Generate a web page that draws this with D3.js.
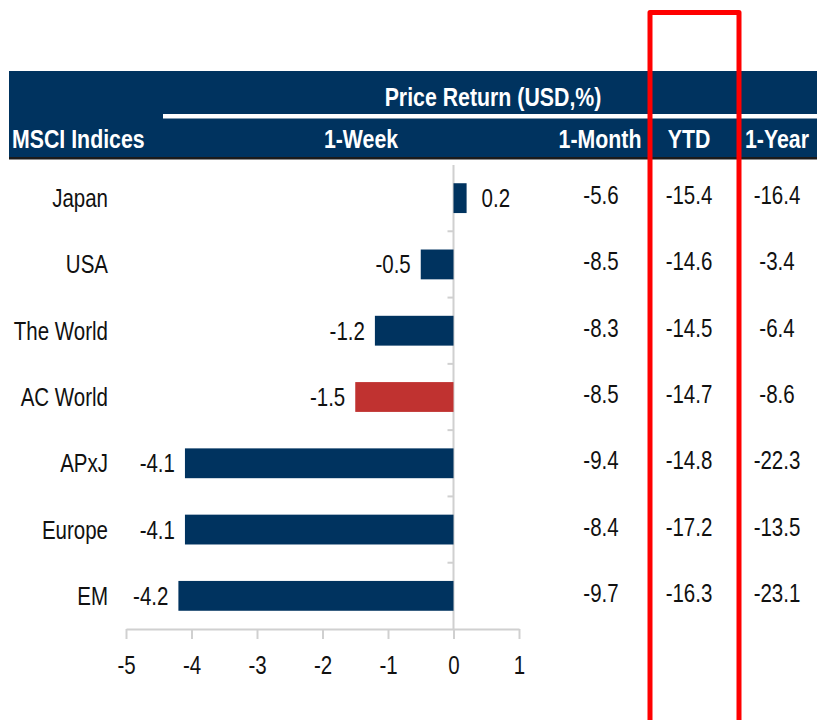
<!DOCTYPE html>
<html>
<head>
<meta charset="utf-8">
<script src="https://cdn.jsdelivr.net/npm/d3@7/dist/d3.min.js"></script>
<style>
  html, body { margin: 0; padding: 0; background: #fff; }
  svg text { font-family: "Liberation Sans", Arial, sans-serif; }
</style>
</head>
<body>
<svg id="chart" width="817" height="720"></svg>
<script>
const categories = ["Japan", "USA", "The World", "AC World", "APxJ", "Europe", "EM"];
const week  = [0.2, -0.5, -1.2, -1.5, -4.1, -4.1, -4.2];
const month = [-5.6, -8.5, -8.3, -8.5, -9.4, -8.4, -9.7];
const ytd   = [-15.4, -14.6, -14.5, -14.7, -14.8, -17.2, -16.3];
const year  = [-16.4, -3.4, -6.4, -8.6, -22.3, -13.5, -23.1];
const highlight = "AC World";
const xTicks = [-5, -4, -3, -2, -1, 0, 1];
const headerTop = "Price Return (USD,%)";
const headerCols = ["MSCI Indices", "1-Week", "1-Month", "YTD", "1-Year"];

const svg = d3.select("#chart");
const navy = "#00335f";
const red = "#c03230";
const fs = 25;
const hfs = 26;
const narrow = 0.82;
const pos = (X, Y) => `translate(${X},${Y}) scale(${narrow},1)`;

const x = d3.scaleLinear().domain([-5, 1]).range([126, 519]);
const y = d3.scaleBand().domain(categories).range([165, 629]).paddingInner(0.55).paddingOuter(0.275);
const step = y.step();

// header band
svg.append("rect").attr("x", 9).attr("y", 71).attr("width", 817 - 9).attr("height", 87).attr("fill", navy);
svg.append("rect").attr("x", 9).attr("y", 157).attr("width", 817 - 9).attr("height", 2.5).attr("fill", "#1b1b1b");
svg.append("rect").attr("x", 163).attr("y", 114).attr("width", 817 - 163).attr("height", 4.5).attr("fill", "#ffffff");

svg.append("text").attr("transform", pos(493, 106)).attr("text-anchor", "middle")
  .attr("fill", "#fff").attr("font-weight", "bold").attr("font-size", hfs).text(headerTop);

const headerX = [12, 361, 600, 689, 777];
const headerAnchor = ["start", "middle", "middle", "middle", "middle"];
headerCols.forEach((t, i) => {
  svg.append("text").attr("transform", pos(headerX[i], 148)).attr("text-anchor", headerAnchor[i])
    .attr("fill", "#fff").attr("font-weight", "bold").attr("font-size", hfs).text(t);
});

// zero line + category ticks
const gy = svg.append("g").attr("transform", `translate(${x(0)},0)`);
gy.append("line").attr("x1", 0).attr("x2", 0).attr("y1", 165).attr("y2", 629)
  .attr("stroke", "#d0d0d0").attr("stroke-width", 2);
gy.selectAll("line.ct").data(d3.range(1, 7)).join("line").attr("class", "ct")
  .attr("x1", -6).attr("x2", 0).attr("y1", k => 165 + k * step).attr("y2", k => 165 + k * step)
  .attr("stroke", "#d0d0d0").attr("stroke-width", 2);

// x axis
const xAxis = d3.axisBottom(x).tickValues(xTicks).tickSize(10).tickSizeOuter(0).tickFormat(d => String(d));
const gx = svg.append("g").attr("transform", "translate(0,629)").call(xAxis);
gx.select(".domain").attr("stroke", "#d0d0d0").attr("stroke-width", 2);
gx.selectAll(".tick line").attr("stroke", "#d0d0d0").attr("stroke-width", 2);
gx.selectAll(".tick text").attr("font-size", fs).attr("fill", "#111").attr("dy", 0).attr("y", 0)
  .attr("transform", pos(0, 45))
  .style("font-family", '"Liberation Sans", Arial, sans-serif');

// bars
const rows = categories.map((c, i) => ({c, w: week[i], m: month[i], t: ytd[i], yr: year[i]}));
svg.selectAll("rect.bar").data(rows).join("rect").attr("class", "bar")
  .attr("x", d => x(Math.min(0, d.w))).attr("width", d => Math.abs(x(d.w) - x(0)))
  .attr("y", d => y(d.c)).attr("height", y.bandwidth())
  .attr("fill", d => d.c === highlight ? red : navy);

// bar value labels
svg.selectAll("text.vl").data(rows).join("text").attr("class", "vl")
  .attr("transform", d => pos(d.w >= 0 ? x(d.w) + 15 : x(d.w) - 10, y(d.c) + y.bandwidth() / 2 + 9))
  .attr("text-anchor", d => d.w >= 0 ? "start" : "end")
  .attr("font-size", fs).attr("fill", "#111").text(d => d.w.toFixed(1));

// category labels
svg.selectAll("text.cat").data(rows).join("text").attr("class", "cat")
  .attr("transform", d => pos(108, y(d.c) + y.bandwidth() / 2 + 9))
  .attr("text-anchor", "end").attr("font-size", fs).attr("fill", "#111").text(d => d.c);

// table columns
const cols = [{k: "m", x: 601}, {k: "t", x: 689}, {k: "yr", x: 777}];
cols.forEach(col => {
  svg.selectAll("text.c" + col.k).data(rows).join("text").attr("class", "c" + col.k)
    .attr("transform", d => pos(col.x, y(d.c) + y.bandwidth() / 2 + 6))
    .attr("text-anchor", "middle").attr("font-size", fs).attr("fill", "#111").text(d => d[col.k].toFixed(1));
});

// red highlight frame
svg.append("path").attr("d", "M650,725 L650,12.5 L739,12.5 L739,725")
  .attr("fill", "none").attr("stroke", "#ff0000").attr("stroke-width", 5).attr("stroke-linejoin", "round");
</script>
</body>
</html>
